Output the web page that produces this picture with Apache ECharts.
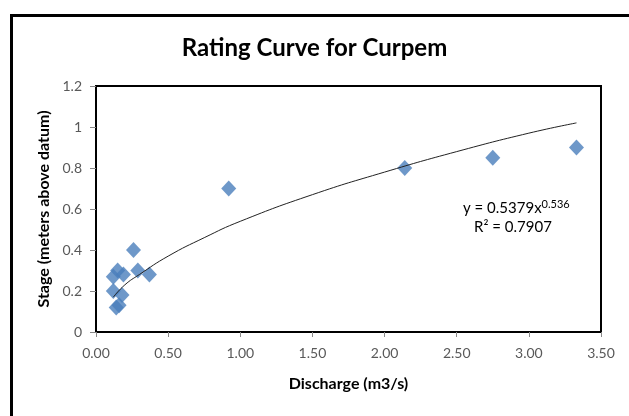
<!DOCTYPE html>
<html>
<head>
<meta charset="utf-8">
<script src="https://cdn.jsdelivr.net/npm/echarts@6/dist/echarts.min.js"></script>
<style>
  html, body { margin: 0; padding: 0; background: #fff; }
  #chart { width: 629px; height: 416px; }
</style>
</head>
<body>
<div id="chart"></div>
<script>
// observed points (discharge m3/s, stage m)
const discharge = [3.33, 2.75, 2.14, 0.92, 0.26, 0.29, 0.37, 0.15, 0.12, 0.19, 0.12, 0.18, 0.14, 0.16]
const stage     = [0.90, 0.85, 0.80, 0.70, 0.40, 0.30, 0.28, 0.30, 0.27, 0.28, 0.20, 0.18, 0.12, 0.13]

// power trendline
const trendX = [0.12, 0.2, 0.3, 0.5, 0.75, 1.0, 1.5, 2.0, 2.5, 3.0, 3.33]
const trendY = [0.17, 0.23, 0.28, 0.37, 0.46, 0.54, 0.67, 0.78, 0.88, 0.97, 1.02]

const font = 'Lato, "Open Sans", sans-serif'
const tickColor = '#595959'

const chart = echarts.init(document.getElementById('chart'))

chart.setOption({
  animation: false,
  backgroundColor: '#fff',
  title: {
    text: 'Rating Curve for Curpem',
    left: 'center',
    top: 31,
    textStyle: { fontFamily: font, fontSize: 24, fontWeight: 'bold', color: '#000' }
  },
  grid: {
    left: 96,
    top: 86,
    right: 28,
    bottom: 84,
    show: true,
    borderColor: '#000',
    borderWidth: 2
  },
  xAxis: {
    type: 'value',
    min: 0,
    max: 3.5,
    interval: 0.5,
    name: 'Discharge (m3/s)',
    nameLocation: 'middle',
    nameGap: 44,
    nameTextStyle: { fontFamily: font, fontSize: 16, fontWeight: 'bold', color: '#000' },
    axisLine: { show: true, lineStyle: { color: '#000', width: 2 } },
    axisTick: { show: true, length: 5, lineStyle: { color: '#888' } },
    axisLabel: {
      fontFamily: font, fontSize: 14, color: tickColor, margin: 14,
      formatter: v => v.toFixed(2)
    },
    splitLine: { show: false }
  },
  yAxis: {
    type: 'value',
    min: 0,
    max: 1.2,
    interval: 0.2,
    name: 'Stage (meters above datum)',
    nameLocation: 'middle',
    nameGap: 44,
    nameTextStyle: { fontFamily: font, fontSize: 16, fontWeight: 'bold', color: '#000' },
    axisLine: { show: true, lineStyle: { color: '#000', width: 2 } },
    axisTick: { show: true, length: 6, lineStyle: { color: '#888' } },
    axisLabel: {
      fontFamily: font, fontSize: 14, color: tickColor, margin: 14,
      formatter: v => String(parseFloat(v.toFixed(1)))
    },
    splitLine: { show: false }
  },
  series: [
    {
      name: 'Trend',
      type: 'line',
      data: trendX.map((x, i) => [x, trendY[i]]),
      smooth: true,
      showSymbol: false,
      lineStyle: { color: '#222', width: 1 },
      z: 3
    },
    {
      name: 'Stage',
      type: 'scatter',
      data: discharge.map((x, i) => [x, stage[i]]),
      symbol: 'diamond',
      symbolSize: [15, 16],
      itemStyle: { color: '#4a7ebb' },
      z: 2
    }
  ],
  graphic: [
    {
      type: 'rect',
      left: 9,
      top: 13,
      shape: { width: 700, height: 500 },
      style: { fill: 'none', stroke: '#000', lineWidth: 3 },
      silent: true
    },
    {
      type: 'text',
      left: 463,
      top: 199,
      style: {
        text: '{a|y = 0.5379x}{s|0.536}',
        rich: {
          a: { fontFamily: font, fontSize: 15, fill: '#000' },
          s: { fontFamily: font, fontSize: 11, fill: '#000', verticalAlign: 'top', padding: [0, 0, 8, 0] }
        }
      }
    },
    {
      type: 'text',
      left: 474,
      top: 220,
      style: {
        text: 'R² = 0.7907',
        fontFamily: font,
        fontSize: 15,
        fill: '#000'
      }
    }
  ]
})
</script>
</body>
</html>
